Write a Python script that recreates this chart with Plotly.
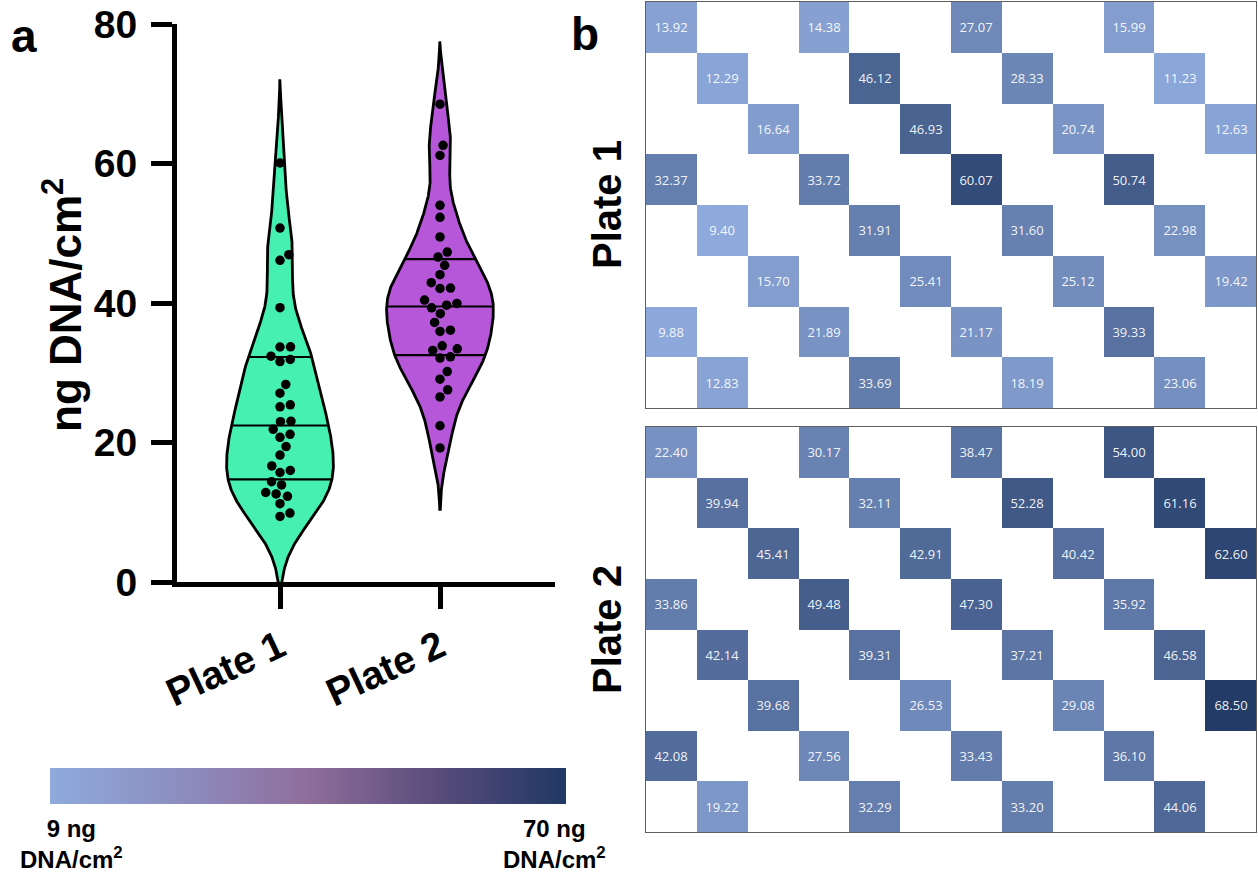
import numpy as np
import plotly.graph_objects as go

# ---------------------------------------------------------------------------
# Data: DNA yield (ng DNA/cm^2) per well. Each plate has 8 rows x 12 columns;
# every row holds 4 wells, starting at column (row % 3) and stepping by 3.
# ---------------------------------------------------------------------------
N_ROWS, N_COLS, STEP = 8, 12, 3

PLATE1_ROWS = [
    [13.92, 14.38, 27.07, 15.99],
    [12.29, 46.12, 28.33, 11.23],
    [16.64, 46.93, 20.74, 12.63],
    [32.37, 33.72, 60.07, 50.74],
    [9.40, 31.91, 31.60, 22.98],
    [15.70, 25.41, 25.12, 19.42],
    [9.88, 21.89, 21.17, 39.33],
    [12.83, 33.69, 18.19, 23.06],
]
PLATE2_ROWS = [
    [22.40, 30.17, 38.47, 54.00],
    [39.94, 32.11, 52.28, 61.16],
    [45.41, 42.91, 40.42, 62.60],
    [33.86, 49.48, 47.30, 35.92],
    [42.14, 39.31, 37.21, 46.58],
    [39.68, 26.53, 29.08, 68.50],
    [42.08, 27.56, 33.43, 36.10],
    [19.22, 32.29, 33.20, 44.06],
]
PLATE_NAMES = ["Plate 1", "Plate 2"]
Y_TICKS = [0, 20, 40, 60, 80]
SCALE_MIN, SCALE_MAX = 9, 70          # colour scale limits (ng DNA/cm^2)

# ---------------------------------------------------------------------------
# Styling
# ---------------------------------------------------------------------------
W, H = 1258, 873
FONT = "Liberation Sans, Arial, Helvetica, sans-serif"
VIOLIN_COLORS = ["#45F0B0", "#B656D8"]
BANDWIDTHS = [4.8, 3.6]               # KDE bandwidth per plate
KDE_CUT = 2.5                         # tails extend this many bandwidths
HALF_WIDTH = 0.334                    # max half-width of a violin, x units
HEAT_SCALE = [[0.0, "#8FAADC"], [1.0, "#203864"]]
BAR_SCALE = [[0.0, "#8FAADC"], [0.25, "#8C8EC0"], [0.5, "#8F6E9C"],
             [0.75, "#594C7B"], [1.0, "#203864"]]


def fx(p):
    """pixel column -> paper x"""
    return p / W


def fy(p):
    """pixel row -> paper y"""
    return 1 - p / H


def plate_grid(rows):
    z = [[None] * N_COLS for _ in range(N_ROWS)]
    for r, vals in enumerate(rows):
        for k, v in enumerate(vals):
            z[r][r % STEP + STEP * k] = v
    return z


def kde(vals, bw, n=500):
    v = np.asarray(vals, dtype=float)
    ys = np.linspace(v.min() - KDE_CUT * bw, v.max() + KDE_CUT * bw, n)
    d = np.exp(-0.5 * ((ys[:, None] - v[None, :]) / bw) ** 2).sum(axis=1)
    return ys, d / d.max()


def swarm(vals, px_y, px_x, diam=10.5):
    """Beeswarm offsets (in x units) so that dots do not overlap."""
    v = np.asarray(vals, dtype=float)
    placed = []
    offs = np.zeros(len(v))
    for i in np.argsort(v):
        y = v[i] * px_y
        near = [(py, px) for py, px in placed if abs(py - y) < diam]
        cands = [0.0]
        for py, px in near:
            w = np.sqrt(diam ** 2 - (py - y) ** 2)
            cands += [px + w, px - w]
        ok = [c for c in cands
              if all((c - px) ** 2 + (y - py) ** 2 >= diam ** 2 - 1e-6
                     for py, px in near)]
        x = min(ok, key=lambda c: (abs(c), -c))
        placed.append((y, x))
        offs[i] = x / px_x
    return offs


plates = [PLATE1_ROWS, PLATE2_ROWS]
groups = [[v for row in rows for v in row] for rows in plates]

# violin panel geometry (pixels)
VX0, VX1, VY0, VY1 = 177, 555, 24, 582
X_CENTER_PX = [280, 440]
PX_PER_X = (X_CENTER_PX[1] - X_CENTER_PX[0])
X_RANGE = [-(X_CENTER_PX[0] - VX0) / PX_PER_X,
           -(X_CENTER_PX[0] - VX0) / PX_PER_X + (VX1 - VX0) / PX_PER_X]
PX_PER_Y = (VY1 - VY0) / (Y_TICKS[-1] - Y_TICKS[0])

fig = go.Figure()

for gi, vals in enumerate(groups):
    c = gi
    ys, d = kde(vals, BANDWIDTHS[gi])
    fig.add_trace(go.Scatter(
        x=np.concatenate([c + HALF_WIDTH * d, (c - HALF_WIDTH * d)[::-1]]),
        y=np.concatenate([ys, ys[::-1]]),
        fill="toself", fillcolor=VIOLIN_COLORS[gi], mode="lines",
        line=dict(color="black", width=2.8), hoverinfo="skip",
        showlegend=False, xaxis="x", yaxis="y"))
    for q in np.percentile(vals, [25, 50, 75], method="weibull"):
        hw = HALF_WIDTH * np.interp(q, ys, d)
        fig.add_trace(go.Scatter(
            x=[c - hw, c + hw], y=[q, q], mode="lines",
            line=dict(color="black", width=2.2), hoverinfo="skip",
            showlegend=False, xaxis="x", yaxis="y"))
    offs = swarm(vals, PX_PER_Y, PX_PER_X)
    fig.add_trace(go.Scatter(
        x=c + offs, y=vals, mode="markers",
        marker=dict(color="black", size=9.5, line=dict(width=0)),
        name=PLATE_NAMES[gi], showlegend=False, xaxis="x", yaxis="y"))

# heatmaps of the two plates
for pi, rows in enumerate(plates):
    z = plate_grid(rows)
    text = [["" if v is None else f"{v:.2f}" for v in r] for r in z]
    ax = str(pi + 2)
    fig.add_trace(go.Heatmap(
        z=z, x=list(range(N_COLS)), y=list(range(N_ROWS)), text=text,
        texttemplate="%{text}",
        textfont=dict(family="Open Sans, sans-serif", size=13,
                      color="rgba(255,255,255,0.93)"),
        colorscale=HEAT_SCALE, zmin=SCALE_MIN, zmax=SCALE_MAX,
        showscale=False, hoverongaps=False, xgap=0, ygap=0,
        xaxis="x" + ax, yaxis="y" + ax))

# colour bar legend
fig.add_trace(go.Scatter(
    x=[None], y=[None], mode="markers", hoverinfo="skip", showlegend=False,
    marker=dict(color=[SCALE_MIN], cmin=SCALE_MIN, cmax=SCALE_MAX,
                colorscale=BAR_SCALE, showscale=True,
                colorbar=dict(orientation="h", x=fx(308), xanchor="center",
                              y=fy(786), yanchor="middle", len=516,
                              lenmode="pixels", thickness=36,
                              outlinewidth=0, ticks="",
                              showticklabels=False, xpad=0, ypad=0)),
    xaxis="x", yaxis="y"))

big = dict(family=FONT, size=39, color="black", weight="bold")
common_violin_axis = dict(showline=True, linecolor="black", linewidth=5,
                          ticks="outside", tickwidth=5, tickcolor="black",
                          showgrid=False, zeroline=False, automargin=False,
                          tickfont=big)
heat_axis = dict(showticklabels=False, ticks="", showgrid=False,
                 zeroline=False, showline=True, mirror=True,
                 linecolor="#5f5f5f", linewidth=1, automargin=False)

layout = dict(
    width=W, height=H, template="none",
    paper_bgcolor="white", plot_bgcolor="white",
    margin=dict(l=0, r=0, t=0, b=0, autoexpand=False),
    showlegend=False,
    xaxis=dict(domain=[fx(VX0), fx(VX1)], range=X_RANGE,
               tickvals=[0, 1], ticktext=PLATE_NAMES, ticklen=22,
               tickangle=-25, **common_violin_axis),
    yaxis=dict(domain=[fy(VY1), fy(VY0)], range=[Y_TICKS[0], Y_TICKS[-1]],
               tickvals=Y_TICKS, ticklen=21, ticklabelstandoff=6,
               **common_violin_axis),
)
for pi, (top, bottom) in enumerate([(2, 408), (427, 832)]):
    ax = str(pi + 2)
    layout["xaxis" + ax] = dict(domain=[fx(646), fx(1256)],
                                range=[-0.5, N_COLS - 0.5],
                                anchor="y" + ax, **heat_axis)
    layout["yaxis" + ax] = dict(domain=[fy(bottom), fy(top)],
                                range=[N_ROWS - 0.5, -0.5],
                                anchor="x" + ax, **heat_axis)
fig.update_layout(**layout)


def label(text, x, y, size, angle=0):
    fig.add_annotation(text=text, x=fx(x), y=fy(y), xref="paper",
                       yref="paper", xanchor="center", yanchor="middle",
                       showarrow=False, textangle=angle,
                       font=dict(family=FONT, size=size, color="black",
                                 weight="bold"))


label("ng DNA/cm<sup>2</sup>", 62, 305, 44, -90)
label("a", 24, 36, 46)
label("b", 585, 34, 46)
label(PLATE_NAMES[0], 607, 205, 40, -90)
label(PLATE_NAMES[1], 607, 630, 40, -90)
label(f"{SCALE_MIN} ng<br>DNA/cm<sup>2</sup>", 71, 844, 24)
label(f"{SCALE_MAX} ng<br>DNA/cm<sup>2</sup>", 554, 844, 24)

fig.write_html("out.html")
